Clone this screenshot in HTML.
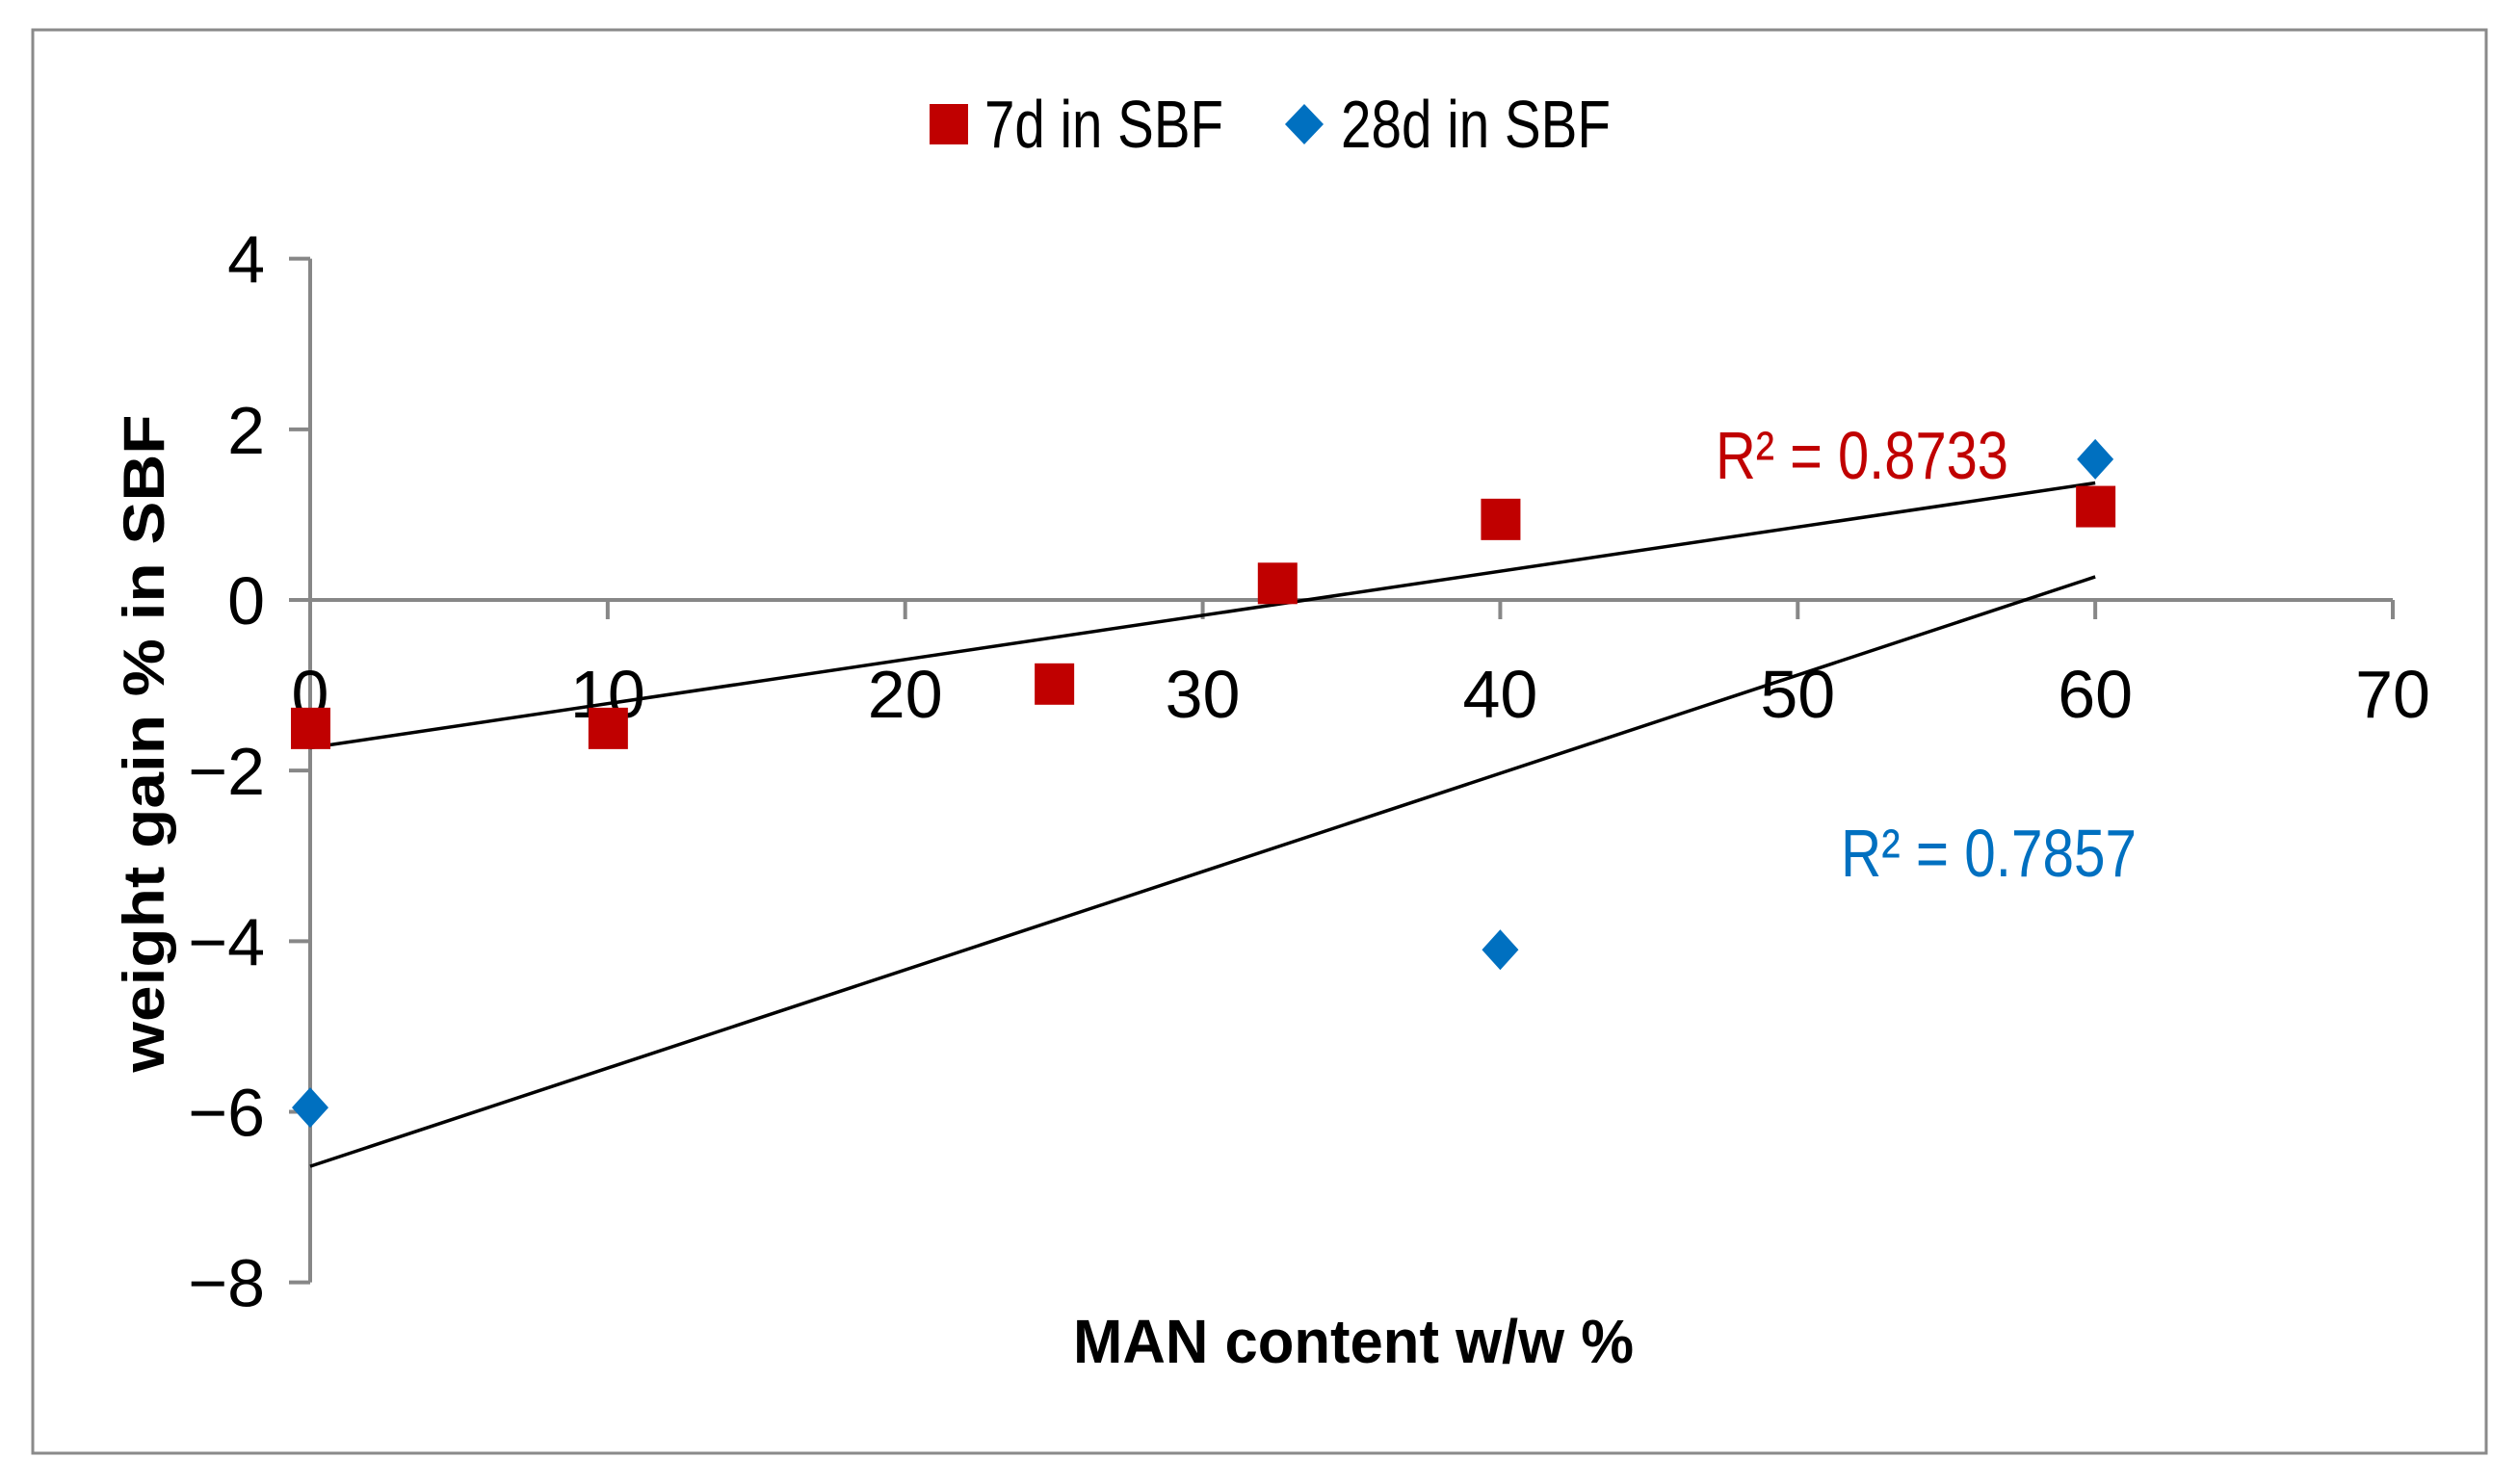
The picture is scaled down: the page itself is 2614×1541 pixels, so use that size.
<!DOCTYPE html>
<html><head><meta charset="utf-8"><style>
html,body{margin:0;padding:0;background:#fff;}
svg{display:block;font-family:"Liberation Sans",Arial,sans-serif;}
</style></head><body>
<svg id="chart" width="2614" height="1541" viewBox="0 0 2614 1541">
<rect x="34" y="31" width="2547" height="1478" fill="#fff" stroke="#8a8a8a" stroke-width="3"/>
<g id="axes"></g>
<g id="trend"></g>
<g id="marks"></g>
<g>
  <rect x="965" y="108" width="40" height="42" fill="#c00000"/>
  <text x="1022" y="153" font-size="70" textLength="248" lengthAdjust="spacingAndGlyphs">7d in SBF</text>
  <polygon points="1354,108 1374,129 1354,150 1334,129" fill="#0070c0"/>
  <text x="1392" y="153" font-size="70" textLength="280" lengthAdjust="spacingAndGlyphs">28d in SBF</text>
</g>
<text x="1781" y="497" font-size="70" fill="#c00000" textLength="304" lengthAdjust="spacingAndGlyphs">R² = 0.8733</text>
<text x="1911" y="910" font-size="70" fill="#0070c0" textLength="307" lengthAdjust="spacingAndGlyphs">R² = 0.7857</text>
<text x="1405" y="1415" font-size="64" font-weight="bold" text-anchor="middle" textLength="582" lengthAdjust="spacingAndGlyphs">MAN content w/w %</text>
<text transform="translate(170,772) rotate(-90)" font-size="60" font-weight="bold" text-anchor="middle" textLength="683" lengthAdjust="spacingAndGlyphs">weight gain % in SBF</text>
</svg>
<script>
const xTicks = [0,10,20,30,40,50,60,70];
const yTicks = [4,2,0,-2,-4,-6,-8];
const x7 = [0,10,25,32.5,40,60];
const y7 = [-1.5,-1.5,-0.98,0.2,0.95,1.1];
const x28 = [0,40,60];
const y28 = [-5.95,-4.1,1.65];

const X0=322, XPX=(2484-322)/70;
const Y0=623, YPX=(1332-269)/12;
function sx(v){return X0+v*XPX;}
function sy(v){return Y0-v*YPX;}
const NS='http://www.w3.org/2000/svg';
function mk(tag,attrs,parent){const e=document.createElementNS(NS,tag);for(const k in attrs)e.setAttribute(k,attrs[k]);parent.appendChild(e);return e;}
const axes=document.getElementById('axes');
const gray='#878787';
let a=mk('line',{x1:sx(0),y1:sy(4),x2:sx(0),y2:sy(-8),stroke:gray,'stroke-width':4},axes);


a=mk('line',{x1:sx(0)-22,y1:sy(0),x2:sx(70),y2:sy(0),stroke:gray,'stroke-width':4},axes);


yTicks.forEach(v=>{
  const t=mk('line',{x1:sx(0)-22,y1:sy(v),x2:sx(0),y2:sy(v),stroke:gray,'stroke-width':4},axes);
  
  
  const l=mk('text',{x:275,y:sy(v)+25,'font-size':70,'text-anchor':'end'},axes);
  l.textContent=(v<0?'\u2212'+Math.abs(v):String(v));
  
  
});
xTicks.forEach(v=>{
  if(v>0){
    const t=mk('line',{x1:sx(v),y1:sy(0),x2:sx(v),y2:sy(0)+20,stroke:gray,'stroke-width':4},axes);
    
    
  }
  const l=mk('text',{x:sx(v),y:745,'font-size':70,'text-anchor':'middle'},axes);
  l.textContent=String(v);
  
  
});
function fit(xs,ys){const n=xs.length;const mx=xs.reduce((s,v)=>s+v,0)/n,my=ys.reduce((s,v)=>s+v,0)/n;let sxy=0,sxx=0;for(let i=0;i<n;i++){sxy+=(xs[i]-mx)*(ys[i]-my);sxx+=(xs[i]-mx)**2;}const m=sxy/sxx;return [m,my-m*mx];}
const trend=document.getElementById('trend');
[[x7,y7,'trendline-7d'],[x28,y28,'trendline-28d']].forEach(([xs,ys,name])=>{
  const [m,b]=fit(xs,ys);const xmin=Math.min(...xs),xmax=Math.max(...xs);
  const ln=mk('line',{x1:sx(xmin),y1:sy(m*xmin+b),x2:sx(xmax),y2:sy(m*xmax+b),stroke:'#000','stroke-width':3.5},trend);
  
  
});
const marks=document.getElementById('marks');
x7.forEach((xv,i)=>{
  const r=mk('rect',{x:sx(xv)-20,y:sy(y7[i])-21,width:41,height:43,fill:'#c00000'},marks);
  
  
});
x28.forEach((xv,i)=>{
  const cx=sx(xv),cy=sy(y28[i]);
  const p=mk('polygon',{points:`${cx},${cy-21} ${cx+19},${cy} ${cx},${cy+21} ${cx-19},${cy}`,fill:'#0070c0'},marks);
  
  
});
</script>
</body></html>
